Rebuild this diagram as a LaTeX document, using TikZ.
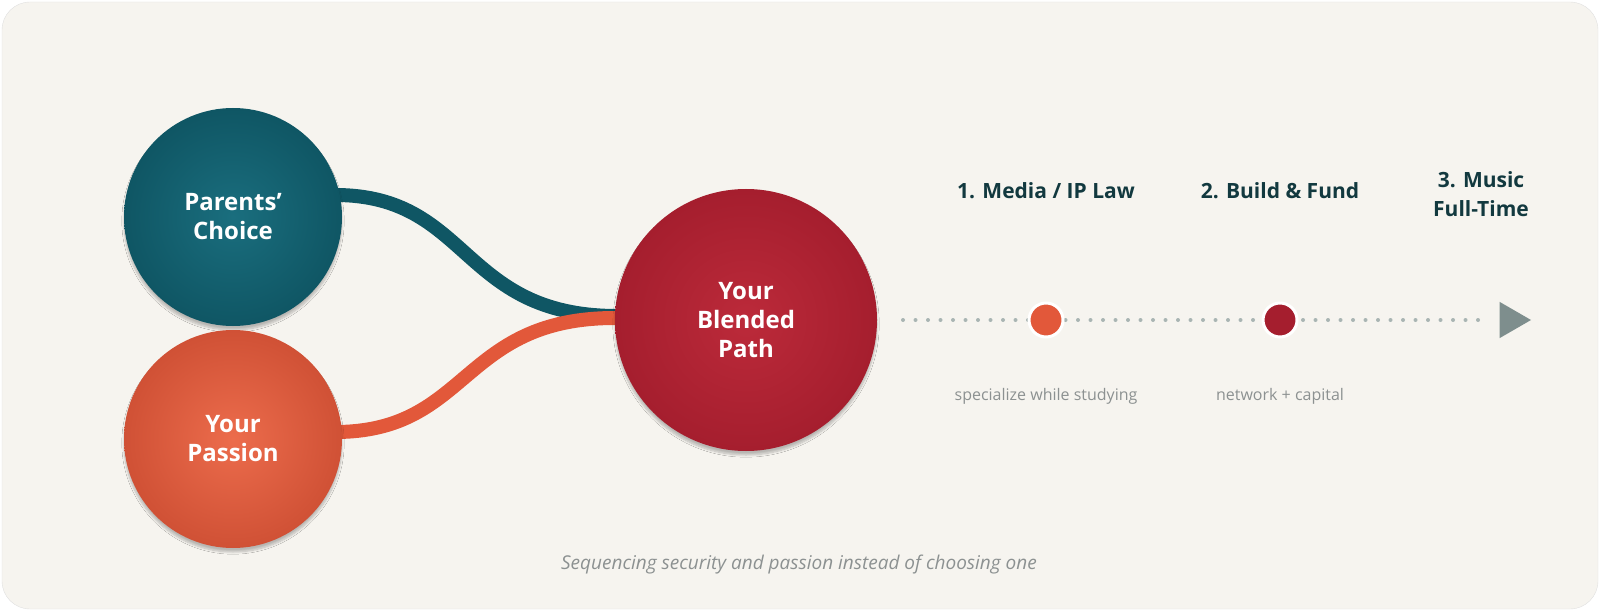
\documentclass[tikz,border=0pt]{standalone}
\usepackage{fontspec}
\setmainfont{Open Sans}
\usetikzlibrary{shadows.blur,shapes.geometric}
\definecolor{bg}{HTML}{F6F4EF}
\definecolor{teal}{HTML}{0F5664}
\definecolor{tealL}{HTML}{1A6E7E}
\definecolor{orng}{HTML}{E2583A}
\definecolor{orngL}{HTML}{EC6C4C}
\definecolor{crim}{HTML}{A51E2E}
\definecolor{crimL}{HTML}{BC2A3A}
\definecolor{dark}{HTML}{12393F}
\definecolor{dotg}{HTML}{A9B5B3}
\definecolor{arrg}{HTML}{7E8E8D}
\definecolor{subg}{HTML}{8C9191}
\begin{document}
\begin{tikzpicture}[x=1pt,y=-1pt,
  circ/.style={circle,minimum size=#1,inner sep=0pt,text=white,font=\bfseries\fontsize{24}{29}\selectfont,align=center,blur shadow={shadow blur steps=8,shadow xshift=0pt,shadow yshift=-4pt,shadow opacity=25}},
  stp/.style={text=dark,font=\bfseries\fontsize{21}{29}\selectfont,align=center},
  sub/.style={text=subg,font=\fontsize{16}{19}\selectfont}]
\useasboundingbox (0,0) rectangle (1600,612);
\draw[draw=black!12,fill=bg,rounded corners=28] (2,2) rectangle (1598,609);
\draw[teal,line width=14pt] (335,195) .. controls (470,195) and (460,315) .. (615,316);
\draw[orng,line width=14pt] (335,432) .. controls (470,432) and (460,318) .. (615,318);
\node[circ=218pt,inner color=tealL,outer color=teal] (pc) at (233,217) {Parents'\\Choice};
\node[circ=218pt,inner color=orngL,outer color=orng!92!black] (yp) at (233,439) {Your\\Passion};
\node[circ=262pt,inner color=crimL,outer color=crim] (bp) at (746,320) {Your\\Blended\\Path};
\coordinate (ls) at (903,320);
\coordinate (le) at (1488,320);
\draw[dotg,line width=4pt,line cap=round,dash pattern=on 0pt off 12.5pt] (ls) -- (le);
\node[fill=arrg,regular polygon,regular polygon sides=3,shape border rotate=-90,minimum size=42pt,inner sep=0pt] (ar) at (1510,320) {};
\node[circle,fill=orng,draw=white,line width=3pt,minimum size=34pt] (d1) at (1046,320) {};
\node[circle,fill=crim,draw=white,line width=3pt,minimum size=34pt] (d2) at (1280,320) {};
\node[stp] (t1) at (1046,191) {1. Media / IP Law};
\node[stp] (t2) at (1280,191) {2. Build \& Fund};
\node[stp] (t3) at (1481,194) {3. Music\\Full-Time};
\node[sub] (s1) at (1046,396) {specialize while studying};
\node[sub] (s2) at (1280,396) {network + capital};
\node[text=subg,font=\itshape\fontsize{19}{22}\selectfont] (cap) at (799,565) {Sequencing security and passion instead of choosing one};
\end{tikzpicture}
\end{document}
